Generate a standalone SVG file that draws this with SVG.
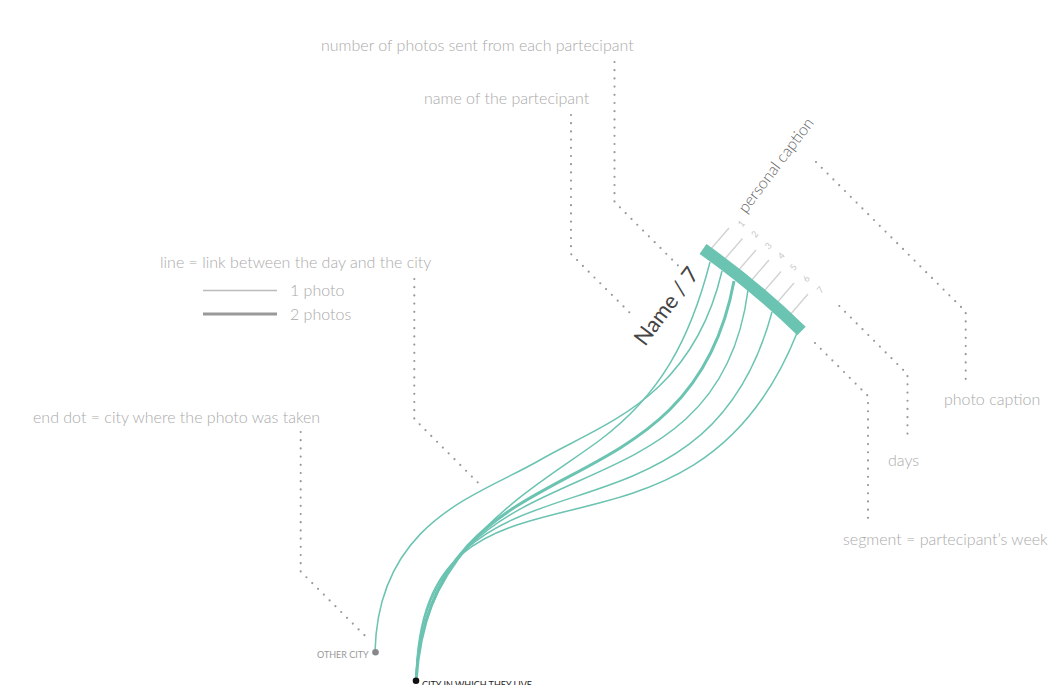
<svg xmlns="http://www.w3.org/2000/svg" width="1057" height="685" viewBox="0 0 1057 685">
<style>
.note{font-family:Lato,"Liberation Sans",sans-serif;font-weight:300;font-size:16px;fill:#aaa}
.lead{fill:none;stroke:#999;stroke-width:2.2;stroke-linecap:round;stroke-dasharray:0 8.2}
.link{fill:none;stroke:#6bc3b1;stroke-width:1.5}
.link2{fill:none;stroke:#6bc3b1;stroke-width:3}
.tick{stroke:#d2d2d2;stroke-width:1.4}
.day{font-family:Lato,"Liberation Sans",sans-serif;font-size:9px;fill:#c8c8c8;text-anchor:middle;dominant-baseline:central}
.city{font-family:Lato,"Liberation Sans",sans-serif;font-size:9px}
</style>
<rect width="1057" height="685" fill="#fff"/>
<g id="annotations">
<text class="note" x="321" y="51">number of photos sent from each partecipant</text>
<text class="note" x="424" y="104">name of the partecipant</text>
<text class="note" x="160" y="268">line = link between the day and the city</text>
<text class="note" x="290" y="296">1 photo</text>
<text class="note" x="290" y="320">2 photos</text>
<line x1="203" y1="290.5" x2="277" y2="290.5" stroke="#bbb" stroke-width="1.6"/>
<line x1="203" y1="314" x2="277" y2="314" stroke="#999" stroke-width="3"/>
<text class="note" x="33" y="423">end dot = city where the photo was taken</text>
<text class="note" x="944" y="405">photo caption</text>
<text class="note" x="888" y="466">days</text>
<text class="note" x="843" y="545">segment = partecipant’s week</text>
</g>
<g id="leaders">
<polyline class="lead" points="614.5,62 614.5,202 678.5,266"/>
<polyline class="lead" points="571,115 571,254 635,318"/>
<polyline class="lead" points="414.3,279 414.3,419 478.3,483"/>
<polyline class="lead" points="300.7,432 300.7,571.5 365,635.8"/>
<polyline class="lead" points="816,162 965.7,311.7 965.7,381"/>
<polyline class="lead" points="839.3,306 907.5,374.2 907.5,441"/>
<polyline class="lead" points="815,343 868,396 868,520"/>
</g>
<g id="connectors">
<path class="link" d="M722,271 C692,400 600,425 540,460 S378,520 375,652"/>
<path class="link" d="M710,262 C690,340 660,395 600,440 S420,545 416,681"/>
<path class="link2" d="M734,281 C689,526 432,431 416,681"/>
<path class="link" d="M748,290 C716,540 428,424 416,681"/>
<path class="link" d="M772,312 C700,580 424,418 416,681"/>
<path class="link" d="M797,333 C688,607 420,418 416,681"/>
</g>
<g id="segment">
<g id="ticks">
<line class="tick" x1="710" y1="250" x2="729" y2="228"/>
<line class="tick" x1="723.5" y1="260.5" x2="742.5" y2="238.5"/>
<line class="tick" x1="737" y1="272" x2="756" y2="250"/>
<line class="tick" x1="750" y1="282" x2="769" y2="260"/>
<line class="tick" x1="762" y1="293.5" x2="781" y2="271.5"/>
<line class="tick" x1="775" y1="305" x2="794" y2="283"/>
<line class="tick" x1="789" y1="316" x2="808" y2="294"/>
</g>
<path d="M703,249 Q755.5,286.2 801.5,331" fill="none" stroke="#6bc3b1" stroke-width="12"/>
<g id="daylabels">
<text class="day" transform="translate(741,223.5) rotate(-50)">1</text>
<text class="day" transform="translate(754.5,234) rotate(-50)">2</text>
<text class="day" transform="translate(768,245.5) rotate(-50)">3</text>
<text class="day" transform="translate(781,255.5) rotate(-50)">4</text>
<text class="day" transform="translate(793,267) rotate(-50)">5</text>
<text class="day" transform="translate(806,278.5) rotate(-50)">6</text>
<text class="day" transform="translate(820,289.5) rotate(-50)">7</text>
</g>
<text transform="translate(645,347) rotate(-53)" font-family="Lato,'Liberation Sans',sans-serif" font-size="22" fill="#444">Name / 7</text>
<text transform="translate(746,214) rotate(-53)" font-family="Lato,'Liberation Sans',sans-serif" font-weight="300" font-size="16" fill="#666">personal caption</text>
</g>
<g id="node-other-city">
<circle cx="375.5" cy="652.3" r="3.3" fill="#888"/>
<text class="city" x="317" y="658" fill="#999">OTHER CITY</text>
</g>
<g id="node-home-city">
<circle cx="416" cy="680.8" r="3.3" fill="#111"/>
<text class="city" x="422" y="688" fill="#222">CITY IN WHICH THEY LIVE</text>
</g>
</svg>
